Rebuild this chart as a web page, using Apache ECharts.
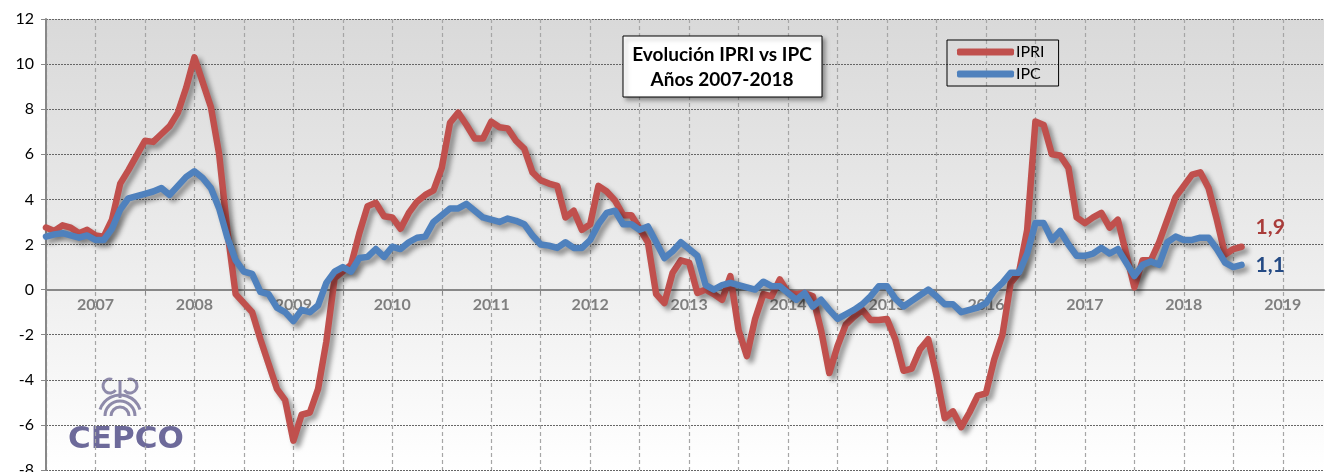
<!DOCTYPE html>
<html>
<head>
<meta charset="utf-8">
<script src="https://cdn.jsdelivr.net/npm/echarts@6/dist/echarts.min.js"></script>
<style>
  html, body { margin: 0; padding: 0; background: #fff; }
  #main { width: 1328px; height: 472px; }
</style>
</head>
<body>
<div id="main"></div>
<script>
// años del eje (meses ene-2007 .. dic-2019)
var years = [2007, 2008, 2009, 2010, 2011, 2012, 2013, 2014, 2015, 2016, 2017, 2018, 2019];
var months = [];
for (var y = 0; y < years.length; y++) {
	for (var m = 1; m <= 12; m++) {
		months.push(years[y] + '-' + (m < 10 ? '0' + m : m));
	}
}

// IPRI, variacion interanual (%), ene-2007 .. feb-2019
var ipri = [
	2.75, 2.6, 2.85, 2.75, 2.5, 2.65, 2.4, 2.35, 3.1, 4.7, 5.3, 5.95,
	6.6, 6.55, 6.9, 7.25, 7.85, 8.95, 10.3, 9.2, 8.1, 6.0, 2.6, -0.2,
	-0.6, -1.0, -2.2, -3.3, -4.4, -4.9, -6.7, -5.55, -5.45, -4.4, -2.3, 0.5,
	0.8, 1.1, 2.5, 3.7, 3.85, 3.25, 3.2, 2.7, 3.4, 3.9, 4.2, 4.4,
	5.4, 7.4, 7.85, 7.3, 6.7, 6.7, 7.45, 7.2, 7.15, 6.6, 6.25, 5.2,
	4.85, 4.7, 4.6, 3.2, 3.5, 2.65, 2.9, 4.6, 4.35, 3.95, 3.3, 3.3,
	2.7, 2.1, -0.2, -0.6, 0.75, 1.3, 1.2, -0.15, 0.0, -0.2, -0.45, 0.6,
	-1.8, -2.95, -1.3, -0.2, -0.3, 0.45, -0.15, -0.2, -0.15, -0.3, -1.8, -3.7,
	-2.5, -1.55, -1.2, -0.9, -1.35, -1.35, -1.3, -2.2, -3.6, -3.5, -2.65, -2.2,
	-3.8, -5.7, -5.4, -6.1, -5.45, -4.7, -4.6, -3.1, -2.0, 0.3, 0.75, 2.65,
	7.45, 7.3, 6.0, 5.95, 5.4, 3.2, 2.95, 3.2, 3.4, 2.75, 3.1, 1.6,
	0.1, 1.3, 1.3, 2.1, 3.1, 4.1, 4.6, 5.1, 5.2, 4.5, 3.1, 1.55,
	1.8, 1.9
];

// IPC, variacion interanual (%)
var ipc = [
	2.35, 2.45, 2.5, 2.4, 2.3, 2.4, 2.2, 2.2, 2.7, 3.55, 4.05, 4.15,
	4.25, 4.35, 4.5, 4.2, 4.6, 5.0, 5.25, 4.95, 4.5, 3.6, 2.3, 1.3,
	0.8, 0.7, -0.1, -0.2, -0.8, -1.0, -1.4, -0.9, -1.0, -0.7, 0.3, 0.8,
	1.0, 0.8, 1.4, 1.45, 1.8, 1.45, 1.9, 1.8, 2.1, 2.3, 2.35, 3.0,
	3.3, 3.6, 3.6, 3.8, 3.5, 3.2, 3.1, 3.0, 3.15, 3.05, 2.9, 2.4,
	2.0, 1.95, 1.85, 2.1, 1.85, 1.85, 2.2, 2.9, 3.4, 3.5, 2.9, 2.9,
	2.65, 2.8, 2.1, 1.4, 1.7, 2.1, 1.8, 1.5, 0.2, 0.0, 0.2, 0.3,
	0.2, 0.1, 0.0, 0.35, 0.15, 0.15, -0.15, -0.45, -0.15, -0.75, -0.45, -0.9,
	-1.3, -1.1, -0.9, -0.65, -0.3, 0.15, 0.15, -0.4, -0.75, -0.5, -0.25, 0.0,
	-0.3, -0.65, -0.65, -1.0, -0.9, -0.8, -0.6, -0.05, 0.3, 0.75, 0.75, 1.6,
	2.95, 2.95, 2.2, 2.6, 2.0, 1.5, 1.5, 1.6, 1.85, 1.6, 1.8, 1.2,
	0.6, 1.1, 1.25, 1.1, 2.1, 2.35, 2.2, 2.2, 2.3, 2.3, 1.8, 1.2,
	1.0, 1.1
];

var yMin = -8, yMax = 12, yStep = 2;

var chart = echarts.init(document.getElementById('main'));

var gridTop = 19, gridBottom = 2, chartH = 472;
// desplaza el eje x hasta la linea del cero
var zeroOffset = -(chartH - gridTop - gridBottom) * (0 - yMin) / (yMax - yMin);

var shadow = {
	shadowColor: 'rgba(0,0,0,0.4)',
	shadowBlur: 5,
	shadowOffsetX: 4,
	shadowOffsetY: 4
};

function comma(v){
	return String(v).replace('.', ',');
}

var option = {
	backgroundColor: '#fff',
	animation: false,
	grid: {
		left: 46,
		right: 4,
		top: gridTop,
		bottom: gridBottom,
		outerBoundsMode: 'none',
		containLabel: false,
		show: true,
		borderWidth: 0,
		backgroundColor: new echarts.graphic.LinearGradient(0, 0, 0, 1, [
			{offset: 0, color: '#d9d9d9'},
			{offset: 0.6, color: '#efefef'},
			{offset: 1, color: '#ffffff'}
		])
	},
	legend: {
		left: 947,
		top: 40,
		orient: 'vertical',
		borderColor: '#000',
		borderWidth: 1,
		padding: [4, 14, 4, 10],
		itemGap: 6,
		itemWidth: 57,
		itemHeight: 7,
		icon: 'roundRect',
		textStyle: {
			fontFamily: 'Lato',
			fontSize: 16,
			color: '#000',
			padding: [0, 0, 0, -3]
		},
		data: ['IPRI', 'IPC']
	},
	xAxis: {
		type: 'category',
		boundaryGap: false,
		data: months,
		offset: zeroOffset,
		axisLine: {
			onZero: false,
			lineStyle: {color: '#888', width: 2}
		},
		axisTick: {
			show: true,
			length: 5,
			interval: function(idx){ return idx % 12 === 0; },
			lineStyle: {color: '#888', width: 1}
		},
		axisLabel: {
			interval: function(idx){ return idx % 12 === 6; },
			formatter: function(val){ return val.slice(0, 4); },
			margin: 7,
			color: '#7f7f7f',
			fontFamily: 'Lato',
			fontWeight: 'bold',
			fontSize: 16
		},
		splitLine: {
			show: true,
			interval: function(idx){ return idx % 6 === 0; },
			lineStyle: {color: '#a6a6a6', type: [4, 3], width: 1.2}
		}
	},
	yAxis: {
		type: 'value',
		min: yMin,
		max: yMax,
		interval: yStep,
		axisLine: {
			show: true,
			lineStyle: {color: '#888', width: 2}
		},
		axisTick: {
			show: true,
			length: 5,
			lineStyle: {color: '#888'}
		},
		axisLabel: {
			margin: 12,
			color: '#000',
			fontFamily: 'Lato',
			fontSize: 16
		},
		splitLine: {
			show: true,
			lineStyle: {color: '#666', type: [2, 1], width: 1}
		}
	},
	graphic: [
		{
			type: 'rect',
			x: 623,
			y: 36,
			shape: {width: 199, height: 61},
			style: {
				fill: '#fff',
				stroke: '#000',
				lineWidth: 1,
				shadowColor: 'rgba(0,0,0,0.35)',
				shadowBlur: 4,
				shadowOffsetX: 3,
				shadowOffsetY: 3
			},
			z: 10
		},
		{
			type: 'text',
			x: 722,
			y: 42,
			style: {
				text: 'Evolución IPRI vs IPC\nAños 2007-2018',
				align: 'center',
				verticalAlign: 'top',
				fill: '#000',
				font: 'bold 19px Lato',
				lineHeight: 25
			},
			z: 11
		},
		// logo CEPCO
		{
			type: 'group',
			x: 66,
			y: 376,
			children: [
				{type: 'arc', shape: {cx: 54, cy: 40, r: 9, startAngle: Math.PI, endAngle: 2 * Math.PI},
					style: {stroke: '#8e8aaa', lineWidth: 3, fill: null}},
				{type: 'arc', shape: {cx: 54, cy: 40, r: 15, startAngle: Math.PI, endAngle: 2 * Math.PI},
					style: {stroke: '#8e8aaa', lineWidth: 3, fill: null}},
				{type: 'arc', shape: {cx: 54, cy: 40, r: 21, startAngle: 1.1 * Math.PI, endAngle: 1.9 * Math.PI},
					style: {stroke: '#8e8aaa', lineWidth: 3, fill: null}},
				{type: 'arc', shape: {cx: 44, cy: 10, r: 7, startAngle: 0.2 * Math.PI, endAngle: 1.6 * Math.PI},
					style: {stroke: '#8e8aaa', lineWidth: 3, fill: null}},
				{type: 'arc', shape: {cx: 64, cy: 10, r: 7, startAngle: 1.4 * Math.PI, endAngle: 2.8 * Math.PI},
					style: {stroke: '#8e8aaa', lineWidth: 3, fill: null}},
				{type: 'line', shape: {x1: 54, y1: 4, x2: 54, y2: 22},
					style: {stroke: '#8e8aaa', lineWidth: 3}},
				{type: 'text', x: 2, y: 48,
					style: {text: 'CEPCO', fill: '#6d6a9a', font: 'bold 31px "DejaVu Sans"',
						stroke: '#fff', lineWidth: 1}}
			],
			z: 1
		}
	],
	series: [
		{
			name: 'IPRI',
			type: 'line',
			data: ipri,
			showSymbol: false,
			symbol: 'none',
			z: 3,
			color: '#c0504d',
			lineStyle: Object.assign({color: '#c0504d', width: 6.5, cap: 'round', join: 'round'}, shadow),
			endLabel: {
				show: true,
				distance: 14,
				offset: [0, -20],
				formatter: function(p){ return comma(p.value); },
				color: '#a93c3a',
				fontFamily: 'Lato',
				fontWeight: 'bold',
				fontSize: 21
			}
		},
		{
			name: 'IPC',
			type: 'line',
			data: ipc,
			showSymbol: false,
			symbol: 'none',
			z: 4,
			color: '#4f81bd',
			lineStyle: Object.assign({color: '#4f81bd', width: 6.5, cap: 'round', join: 'round'}, shadow),
			endLabel: {
				show: true,
				distance: 14,
				offset: [0, 0],
				formatter: function(p){ return comma(p.value); },
				color: '#244a84',
				fontFamily: 'Lato',
				fontWeight: 'bold',
				fontSize: 21
			}
		}
	]
};

chart.setOption(option);
</script>
</body>
</html>
